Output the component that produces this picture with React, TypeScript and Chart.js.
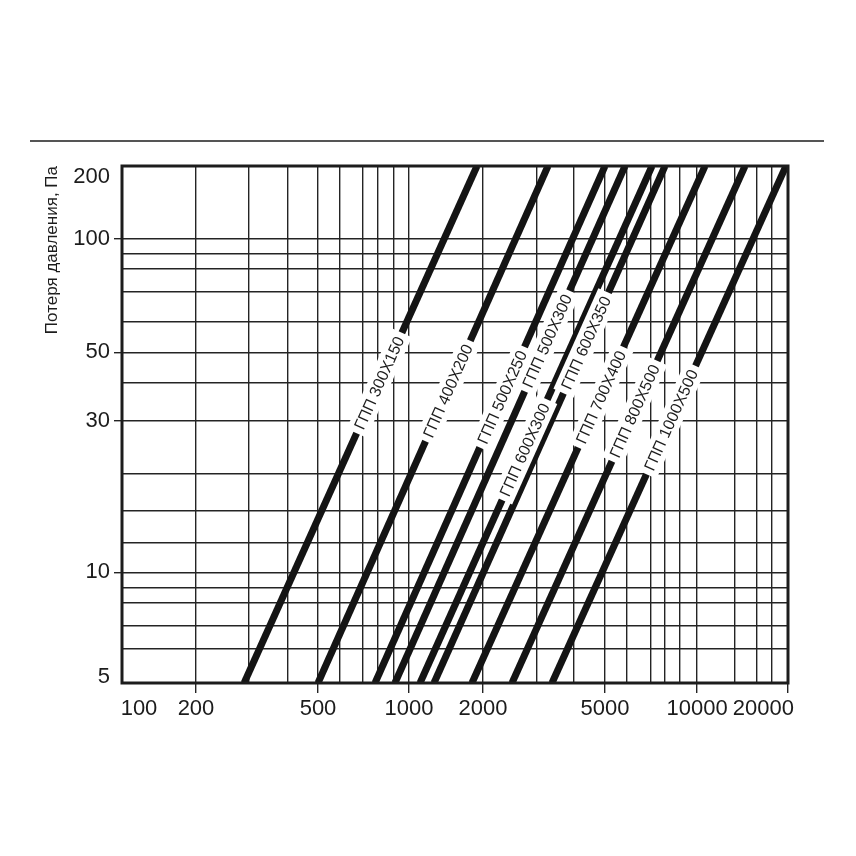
import React, { useEffect, useRef } from 'react';
import { Chart, registerables, LogarithmicScale } from 'chart.js';

// ---- data ----
const FLOW_GRID = [100, 200, 300, 400, 500, 600, 700, 800, 900, 1000, 2000, 3000, 4000, 5000, 6000, 7000, 8000, 9000, 10000, 13000, 16000, 18000, 20000];
const FLOW_TICK_LABELS = [100, 200, 500, 1000, 2000, 5000, 10000, 20000];
const PRESSURE_GRID = [5, 6, 7, 8, 9, 10, 12, 15, 20, 30, 40, 50, 60, 70, 80, 90, 100, 200];
const PRESSURE_TICK_LABELS = [5, 10, 30, 50, 100, 200];

const SERIES = ['ГПП 300X150', 'ГПП 400X200', 'ГПП 500X250', 'ГПП 500X300', 'ГПП 600X300', 'ГПП 600X350', 'ГПП 700X400', 'ГПП 800X500', 'ГПП 1000X500'];
const FLOW_AT_5PA = [289, 500, 779, 906, 1109, 1264, 1804, 2487, 3371];
const FLOW_AT_200PA = [1891, 3268, 5000, 5901, 7067, 8000, 10568, 14287, 19739];
const LABEL_AT_PA = [39.8, 37.5, 35.8, 53.5, 24.0, 52.9, 35.8, 32.3, 30.2];

// ---- printed (hand-drawn) axis spacing: share of axis length at each gridline ----
const FLOW_AXIS_SHARE = [0, 0.1111, 0.1907, 0.2492, 0.2943, 0.3273, 0.3619, 0.3844, 0.4084, 0.4309, 0.542, 0.6231, 0.6787, 0.7252, 0.7583, 0.7943, 0.8153, 0.8378, 0.8634, 0.9204, 0.9535, 0.976, 1];
const PRESSURE_AXIS_SHARE = [0, 0.0663, 0.1103, 0.1553, 0.1843, 0.2141, 0.2721, 0.3327, 0.4056, 0.5068, 0.5816, 0.6397, 0.6983, 0.7569, 0.8014, 0.8298, 0.8594, 1];

const FONT = '"Liberation Sans", Arial, Helvetica, sans-serif';
const INK = '#1c1c1c';
const GRID_INK = '#242424';

function toShare(grid: number[], share: number[], v: number): number {
  const lv = Math.log10(v);
  let i = 0;
  while (i < grid.length - 2 && lv > Math.log10(grid[i + 1])) i++;
  const a = Math.log10(grid[i]);
  const b = Math.log10(grid[i + 1]);
  return share[i] + ((lv - a) / (b - a)) * (share[i + 1] - share[i]);
}
function fromShare(grid: number[], share: number[], f: number): number {
  let i = 0;
  while (i < grid.length - 2 && f > share[i + 1]) i++;
  const a = Math.log10(grid[i]);
  const b = Math.log10(grid[i + 1]);
  return Math.pow(10, a + ((f - share[i]) / (share[i + 1] - share[i])) * (b - a));
}

class NomogramScale extends LogarithmicScale {
  static id = 'nomogram';
  table(): [number[], number[]] {
    return (this as any).axis === 'x' ? [FLOW_GRID, FLOW_AXIS_SHARE] : [PRESSURE_GRID, PRESSURE_AXIS_SHARE];
  }
  getPixelForValue(value: number): number {
    if (value === null || value === undefined || isNaN(value) || value <= 0) return NaN;
    const [g, s] = this.table();
    return this.getPixelForDecimal(toShare(g, s, value));
  }
  getValueForPixel(pixel: number): number {
    const [g, s] = this.table();
    return fromShare(g, s, this.getDecimalForPixel(pixel));
  }
}

Chart.register(...registerables, NomogramScale as any);

const decorPlugin = {
  id: 'decor',
  afterDatasetsDraw(chart: any) {
    const { ctx } = chart;
    const xs = chart.scales.x;
    const ys = chart.scales.y;
    ctx.save();
    ctx.font = `16px ${FONT}`;
    SERIES.forEach((name, i) => {
      const x1 = xs.getPixelForValue(FLOW_AT_5PA[i]);
      const y1 = ys.getPixelForValue(PRESSURE_GRID[0]);
      const x2 = xs.getPixelForValue(FLOW_AT_200PA[i]);
      const y2 = ys.getPixelForValue(PRESSURE_GRID[PRESSURE_GRID.length - 1]);
      const py = ys.getPixelForValue(LABEL_AT_PA[i]);
      const t = (py - y1) / (y2 - y1);
      const px = x1 + t * (x2 - x1);
      const ang = Math.atan2(y2 - y1, x2 - x1);
      ctx.save();
      ctx.translate(px, py);
      ctx.rotate(ang);
      const w = ctx.measureText(name).width;
      ctx.fillStyle = '#ffffff';
      ctx.fillRect(-w / 2 - 5, -11, w + 10, 22);
      ctx.fillStyle = INK;
      ctx.textAlign = 'center';
      ctx.textBaseline = 'middle';
      ctx.fillText(name, 0, 1);
      ctx.restore();
    });
    ctx.restore();
  },
  afterDraw(chart: any) {
    const { ctx, chartArea: a } = chart;
    ctx.save();
    // frame
    ctx.strokeStyle = INK;
    ctx.lineWidth = 3;
    ctx.strokeRect(a.left, a.top, a.right - a.left, a.bottom - a.top);
    // rule above the chart
    ctx.lineWidth = 1.5;
    ctx.beginPath();
    ctx.moveTo(22, 133);
    ctx.lineTo(816, 133);
    ctx.stroke();
    ctx.fillStyle = INK;
    // end labels of pressure axis, kept inside the frame height
    const ys = chart.scales.y;
    ctx.font = `22px ${FONT}`;
    ctx.textAlign = 'right';
    ctx.textBaseline = 'middle';
    const lo = PRESSURE_TICK_LABELS[0];
    const hi = PRESSURE_TICK_LABELS[PRESSURE_TICK_LABELS.length - 1];
    ctx.fillText(String(hi), a.left - 12, ys.getPixelForValue(hi) + 11);
    ctx.fillText(String(lo), a.left - 12, ys.getPixelForValue(lo) - 6);
    // end labels of flow axis
    const xs = chart.scales.x;
    const first = FLOW_TICK_LABELS[0];
    const last = FLOW_TICK_LABELS[FLOW_TICK_LABELS.length - 1];
    ctx.textBaseline = 'top';
    ctx.textAlign = 'center';
    ctx.fillText(String(first), xs.getPixelForValue(first) + 17, a.bottom + 15);
    ctx.textAlign = 'right';
    ctx.fillText(String(last), xs.getPixelForValue(last) + 6, a.bottom + 15);
    ctx.restore();
  },
};

export default function App() {
  const ref = useRef<HTMLCanvasElement>(null);
  useEffect(() => {
    if (!ref.current) return;
    const pLo = PRESSURE_GRID[0];
    const pHi = PRESSURE_GRID[PRESSURE_GRID.length - 1];
    const fLo = FLOW_GRID[0];
    const fHi = FLOW_GRID[FLOW_GRID.length - 1];
    const chart = new Chart(ref.current, {
      type: 'line',
      data: {
        datasets: SERIES.map((name, i) => ({
          label: name,
          data: [
            { x: FLOW_AT_5PA[i], y: pLo },
            { x: FLOW_AT_200PA[i], y: pHi },
          ],
          borderColor: '#141414',
          borderWidth: 7,
          borderCapStyle: 'butt',
          pointRadius: 0,
          tension: 0,
        })),
      } as any,
      options: {
        responsive: false,
        animation: false,
        events: [],
        layout: { padding: { left: 0, top: 158, right: 60, bottom: 105 } },
        plugins: { legend: { display: false }, tooltip: { enabled: false } },
        scales: {
          x: {
            type: 'nomogram' as any,
            min: fLo,
            max: fHi,
            afterBuildTicks: (s: any) => {
              s.ticks = FLOW_GRID.map((v) => ({ value: v }));
            },
            afterFit: (s: any) => {
              s.height = 60;
            },
            border: { display: false },
            grid: {
              color: GRID_INK,
              lineWidth: 1.4,
              drawTicks: true,
              tickLength: 10,
              tickWidth: 1.4,
              tickColor: (c: any) =>
                c.tick && FLOW_TICK_LABELS.includes(c.tick.value) && c.tick.value !== fLo ? GRID_INK : 'rgba(0,0,0,0)',
            },
            ticks: {
              autoSkip: false,
              maxRotation: 0,
              minRotation: 0,
              align: 'center',
              padding: 3,
              color: INK,
              font: { family: FONT, size: 22 },
              callback: (v: any) => {
                const n = Number(v);
                if (n === fLo || n === fHi) return '';
                return FLOW_TICK_LABELS.includes(n) ? String(n) : '';
              },
            },
          } as any,
          y: {
            type: 'nomogram' as any,
            min: pLo,
            max: pHi,
            afterBuildTicks: (s: any) => {
              s.ticks = PRESSURE_GRID.map((v) => ({ value: v }));
            },
            afterFit: (s: any) => {
              s.width = 114;
            },
            border: { display: false },
            grid: {
              color: GRID_INK,
              lineWidth: 1.4,
              drawTicks: true,
              tickLength: 8,
              tickWidth: 1.4,
              tickColor: (c: any) =>
                c.tick && PRESSURE_TICK_LABELS.includes(c.tick.value) && c.tick.value !== pLo && c.tick.value !== pHi
                  ? GRID_INK
                  : 'rgba(0,0,0,0)',
            },
            ticks: {
              autoSkip: false,
              padding: 4,
              color: INK,
              font: { family: FONT, size: 22 },
              callback: (v: any) => {
                const n = Number(v);
                if (n === pLo || n === pHi) return '';
                return PRESSURE_TICK_LABELS.includes(n) ? String(n) : '';
              },
            },
            title: {
              display: true,
              text: 'Потеря давления, Па',
              align: 'end',
              color: INK,
              font: { family: FONT, size: 17 },
              padding: { top: 34, bottom: 0 },
            },
          } as any,
        },
      },
      plugins: [decorPlugin],
    });
    return () => chart.destroy();
  }, []);
  return (
    <div style={{ width: 840, height: 840 }}>
      <canvas ref={ref} width={840} height={840} style={{ display: 'block' }} />
    </div>
  );
}
